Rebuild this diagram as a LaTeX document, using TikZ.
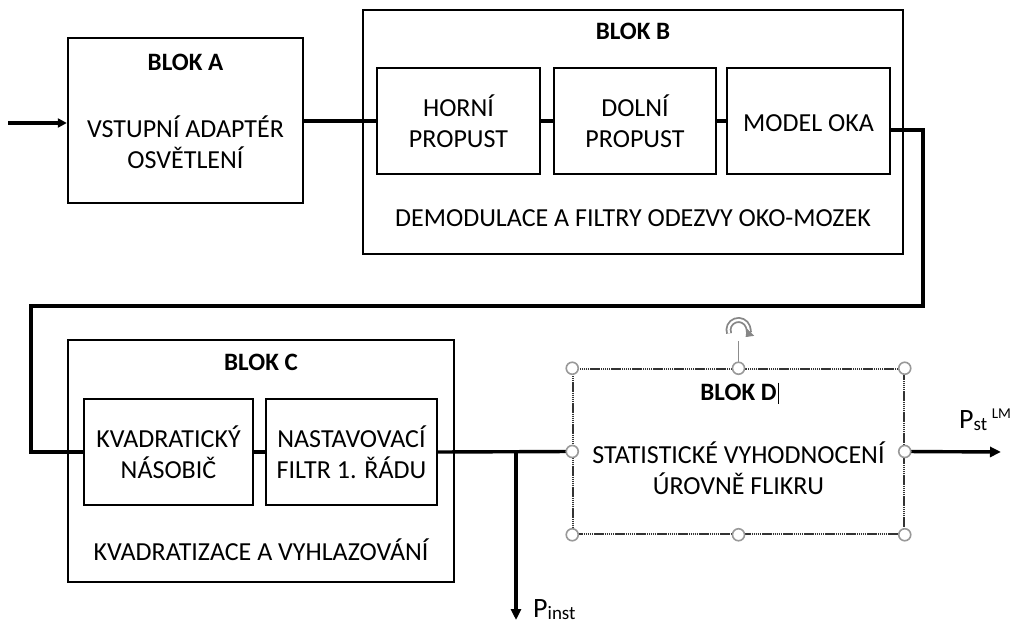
\documentclass[tikz,border=0pt]{standalone}
\usepackage{fontspec}
\setmainfont{Carlito}
\usetikzlibrary{arrows.meta}
\begin{document}
\begin{tikzpicture}[x=1pt,y=-1pt,
  blk/.style={draw, line width=2.4pt, inner sep=0pt},
  conn/.style={line width=3.4pt},
  arr/.style={conn, -{Triangle[length=11pt,width=10pt]}},
  txt/.style={font=\fontsize{26}{31}\selectfont, align=center, inner sep=0pt},
  ttl/.style={font=\bfseries\fontsize{25}{28}\selectfont, inner sep=0pt},
  handle/.style={circle, draw=gray!80, fill=white, line width=1.6pt, minimum size=12pt, inner sep=0pt},
  sel/.style={draw=black!80, line width=1.5pt, dash pattern=on 1.5pt off 0.6pt, inner sep=0pt},
  lbl/.style={inner sep=0pt, anchor=base west}
]
\useasboundingbox[fill=white] (0,0) rectangle (1015,623);

% ---- Block A
\node[blk, minimum width=235, minimum height=165] (A) at (185.5,120.5) {};
\node[ttl] (tA) at (185.5,62) {BLOK A};
\node[txt] (dA) at (185.5,142) {VSTUPNÍ ADAPTÉR\\OSVĚTLENÍ};

% ---- Block B
\node[blk, minimum width=540, minimum height=244] (B) at (633,132) {};
\node[ttl] (tB) at (633,31) {BLOK B};
\node[txt] (dB) at (633,218) {DEMODULACE A FILTRY ODEZVY OKO-MOZEK};
\node[blk, txt, minimum width=163, minimum height=106] (horni) at (458.5,121) {HORNÍ\\PROPUST};
\node[blk, txt, minimum width=162, minimum height=106] (dolni) at (635,121) {DOLNÍ\\PROPUST};
\node[blk, txt, minimum width=163, minimum height=106] (model) at (808.5,121) {};
\node[txt] (mtxt) at (808.5,123) {MODEL OKA};

% ---- Block C
\node[blk, minimum width=386, minimum height=242] (C) at (261,461) {};
\node[ttl] (tC) at (261,362) {BLOK C};
\node[txt] (dC) at (261,550) {KVADRATIZACE A VYHLAZOVÁNÍ};
\node[blk, txt, minimum width=169, minimum height=106] (kvadr) at (168.5,452) {KVADRATICKÝ\\NÁSOBIČ};
\node[blk, txt, minimum width=171, minimum height=106] (nastav) at (351.5,452) {NASTAVOVACÍ\\FILTR 1. ŘÁDU};

% ---- Block D (selected)
\node[sel, minimum width=331, minimum height=165] (D) at (738.5,451.5) {};
\node[ttl] (tD) at (738.5,392) {BLOK D};
\node[txt] (dD) at (738.5,468.5) {STATISTICKÉ VYHODNOCENÍ\\ÚROVNĚ FLIKRU};
\draw[line width=0.9pt] ([xshift=2pt,yshift=1pt]tD.north east) -- ([xshift=2pt,yshift=-4pt]tD.south east);

% ---- connectors
\coordinate (in) at (8,123);
\draw[arr, -{Triangle[length=9pt,width=9pt]}] (in) -- (in -| A.west);
\draw[conn] (A.east |- horni.west) -- (horni.west);
\draw[conn] (horni.east) -- (dolni.west);
\draw[conn] (dolni.east) -- (model.west);
\coordinate (m1) at (923,130);
\coordinate (m2) at (923,306);
\coordinate (m3) at (31,306);
\coordinate (m4) at (31,452);
\draw[conn, line join=miter] (model.east |- m1) -- (m1) -- (m2) -- (m3) -- (m4) -- (kvadr.west);
\draw[conn] (kvadr.east) -- (nastav.west);
\draw[conn] (nastav.east) -- (D.west);
\coordinate (j) at (516,452);
\coordinate (pout) at (516,620);
\draw[arr] (j) -- (pout);
\coordinate (sout) at (1001,452);
\draw[arr] (D.east) -- (sout);

% ---- selection handles
\coordinate (rot) at (738.5,341);
\draw[gray!90, line width=1.4pt] (D.north) -- (rot);
\draw[gray!95, double=white, double distance=2.2pt, line width=1.8pt, -{Triangle[length=7pt,width=10pt]}]
  (729.1,333.4) arc[start angle=-200, end angle=45, radius=10];
\foreach \a/\n in {north west/h1, north/h2, north east/h3, west/h4, east/h5, south west/h6, south/h7, south east/h8}
  \node[handle] (\n) at (D.\a) {};

% ---- output labels
\node[lbl] (pinst) at (533,617) {\fontsize{28}{30}\selectfont P\raisebox{-2pt}{\fontsize{19}{20}\selectfont inst}};
\node[lbl] (pst) at (959,428) {\fontsize{28}{30}\selectfont P\raisebox{-2pt}{\fontsize{19}{20}\selectfont st}\,\raisebox{10pt}{\fontsize{15}{15}\selectfont LM}};
\end{tikzpicture}
\end{document}
